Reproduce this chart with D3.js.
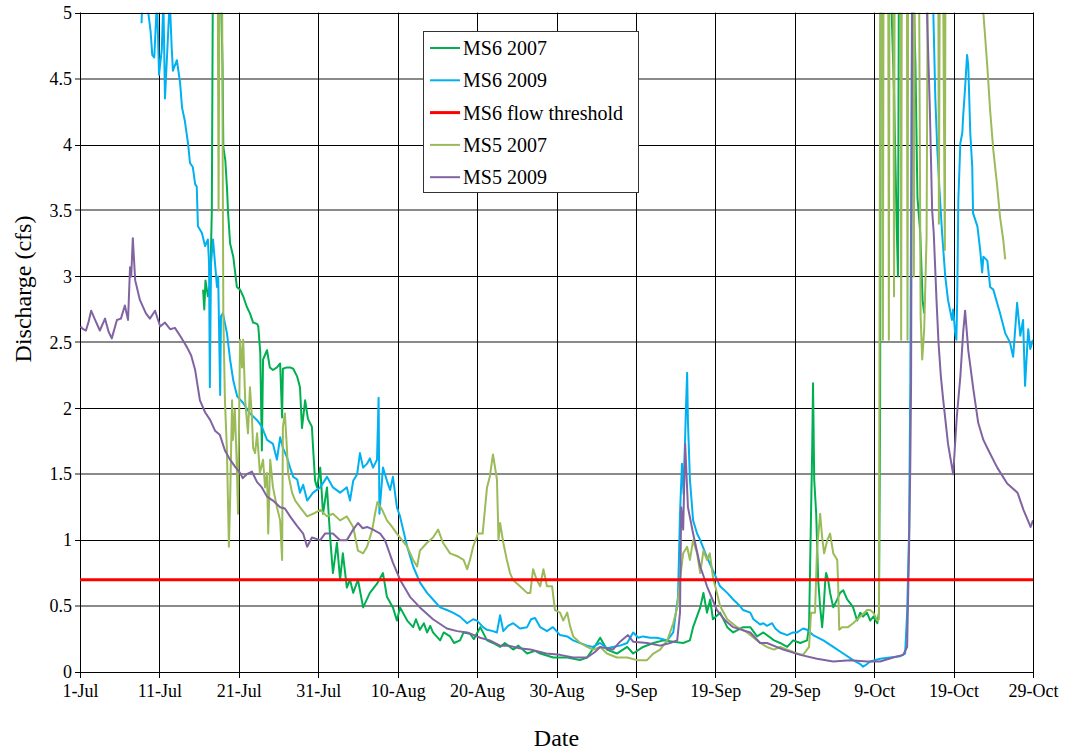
<!DOCTYPE html>
<html>
<head>
<meta charset="utf-8">
<script src="https://cdn.jsdelivr.net/npm/d3@7"></script>
<style>
  html, body { margin: 0; padding: 0; background: #fff; }
  svg { display: block; }
</style>
</head>
<body>
<svg id="chart" width="1065" height="751"></svg>
<script>
// Discharge series: [days after 1-Jul, discharge in cfs]
const ms6_2007 = [[15.5,2.9],[15.65,2.75],[15.8,2.97],[16.1,2.85],[16.4,2.95],[16.6,3.5],[16.75,5.5],[17.5,6.0],[17.8,5.0],[17.95,4.6],[18.05,3.98],[18.3,3.88],[18.5,3.68],[18.65,3.48],[18.9,3.25],[19.3,3.15],[19.75,2.92],[20.15,2.9],[20.55,2.85],[21.0,2.77],[21.4,2.72],[21.8,2.65],[22.3,2.64],[22.45,2.62],[22.7,2.42],[22.9,1.68],[23.05,2.37],[23.55,2.44],[23.9,2.31],[24.3,2.29],[24.8,2.31],[25.2,2.34],[25.45,1.93],[25.55,2.3],[26.05,2.31],[26.45,2.31],[26.85,2.3],[27.35,2.24],[27.7,2.16],[27.95,1.85],[28.35,2.06],[28.7,1.92],[29.2,1.86],[29.35,1.7],[29.6,1.45],[29.85,1.4],[30.25,1.55],[30.6,1.2],[31.1,1.4],[31.5,1.02],[31.85,0.75],[32.35,0.98],[32.75,0.7],[33.1,0.9],[33.6,0.64],[34.0,0.7],[34.4,0.6],[35.0,0.7],[35.65,0.49],[36.5,0.6],[37.4,0.67],[38.15,0.75],[38.65,0.57],[39.4,0.49],[39.9,0.39],[40.3,0.49],[41.2,0.39],[41.95,0.34],[42.3,0.4],[42.8,0.32],[43.3,0.37],[43.7,0.3],[44.1,0.35],[44.45,0.3],[45.35,0.24],[45.8,0.3],[46.6,0.27],[47.1,0.22],[47.85,0.24],[48.3,0.3],[49.1,0.29],[49.6,0.25],[50.4,0.34],[51.25,0.24],[52.0,0.22],[52.9,0.19],[53.5,0.22],[54.55,0.17],[55.2,0.2],[56.3,0.14],[57.3,0.16],[57.95,0.14],[59.6,0.11],[61.35,0.11],[62.95,0.09],[63.85,0.11],[65.1,0.22],[65.5,0.26],[66.35,0.17],[67.6,0.14],[68.9,0.19],[69.65,0.14],[70.9,0.19],[72.2,0.22],[73.45,0.24],[74.7,0.23],[75.95,0.22],[76.8,0.24],[77.2,0.34],[78.1,0.49],[78.5,0.6],[78.95,0.45],[79.35,0.55],[79.7,0.4],[80.6,0.45],[81.5,0.34],[82.25,0.3],[83.5,0.34],[84.4,0.34],[85.25,0.27],[86.05,0.3],[87.4,0.24],[88.15,0.22],[89.05,0.19],[89.8,0.24],[90.7,0.22],[91.55,0.24],[91.8,0.34],[92.05,1.2],[92.2,1.7],[92.3,2.19],[92.45,1.46],[92.7,1.2],[92.95,0.7],[93.2,0.49],[93.45,0.34],[93.6,0.45],[93.85,0.7],[93.95,0.75],[94.2,0.7],[94.45,0.6],[94.85,0.49],[95.35,0.55],[95.7,0.6],[96.1,0.62],[96.6,0.55],[97.0,0.52],[97.35,0.49],[97.85,0.39],[98.25,0.45],[98.6,0.42],[99.1,0.45],[99.5,0.39],[99.9,0.42],[100.4,0.37],[100.6,0.45],[100.75,2.0],[100.85,6.0],[101.9,6.0],[102.25,4.9],[102.5,4.4],[102.85,3.35],[103.0,3.0],[103.15,6.0],[104.6,6.0],[105.2,4.6],[105.45,3.6],[105.8,3.33],[106.1,2.82],[106.3,2.72]];

const ms6_2009 = [[7.75,4.92],[7.9,5.2],[8.5,5.05],[8.9,4.85],[9.1,4.68],[9.35,4.66],[9.7,5.1],[9.95,4.53],[10.3,4.72],[10.5,5.1],[10.7,4.35],[10.95,4.66],[11.3,5.1],[11.55,4.73],[11.7,4.56],[12.2,4.64],[12.6,4.47],[12.85,4.28],[13.2,4.18],[13.6,4.01],[13.85,3.86],[14.2,3.83],[14.5,3.7],[14.7,3.68],[14.85,3.38],[15.35,3.33],[15.75,3.23],[16.1,3.28],[16.25,3.1],[16.35,2.16],[16.5,3.1],[16.75,3.28],[17.25,2.92],[17.4,3.0],[17.65,2.1],[17.75,2.7],[18.0,2.72],[18.5,2.57],[18.9,2.37],[19.3,2.21],[19.8,2.09],[20.55,2.04],[21.4,1.96],[22.3,1.91],[22.9,1.86],[23.55,1.76],[24.3,1.73],[24.8,1.61],[25.2,1.78],[25.55,1.7],[26.05,1.63],[26.45,1.55],[26.85,1.48],[27.35,1.46],[27.7,1.36],[28.1,1.42],[28.6,1.3],[29.35,1.36],[30.25,1.4],[31.1,1.48],[31.85,1.4],[32.75,1.36],[33.6,1.4],[34.0,1.3],[34.4,1.45],[34.9,1.5],[35.25,1.66],[35.65,1.55],[36.15,1.58],[36.5,1.62],[36.9,1.55],[37.4,1.61],[37.6,2.08],[37.7,1.2],[38.15,1.55],[38.65,1.45],[39.05,1.38],[39.4,1.48],[39.9,1.25],[40.3,1.18],[41.2,0.95],[41.95,0.8],[42.8,0.68],[43.7,0.6],[44.45,0.55],[45.35,0.49],[46.2,0.47],[46.95,0.45],[47.85,0.42],[48.75,0.37],[49.5,0.4],[50.0,0.39],[50.75,0.34],[51.25,0.32],[52.0,0.31],[52.5,0.3],[52.9,0.43],[53.3,0.31],[53.9,0.35],[54.55,0.37],[55.4,0.33],[56.3,0.34],[56.8,0.4],[57.3,0.41],[57.95,0.34],[58.8,0.31],[59.55,0.34],[60.45,0.28],[61.35,0.27],[62.1,0.24],[62.95,0.22],[63.85,0.2],[64.6,0.19],[65.5,0.22],[66.35,0.18],[67.1,0.19],[68.0,0.2],[68.9,0.22],[69.65,0.3],[70.3,0.26],[70.9,0.27],[71.8,0.26],[72.65,0.26],[73.95,0.24],[74.7,0.3],[75.3,0.57],[75.55,1.2],[75.8,1.58],[76.0,1.35],[76.3,2.0],[76.45,2.27],[76.55,1.9],[76.8,1.46],[77.2,1.15],[77.7,1.05],[78.1,1.0],[78.95,0.87],[79.7,0.77],[80.6,0.65],[81.5,0.6],[82.25,0.55],[83.1,0.5],[83.5,0.47],[84.4,0.45],[84.8,0.4],[85.65,0.36],[86.05,0.37],[86.5,0.35],[87.15,0.37],[87.55,0.33],[88.15,0.3],[89.05,0.28],[89.8,0.3],[90.3,0.3],[91.05,0.33],[91.55,0.32],[92.3,0.28],[93.6,0.24],[94.85,0.19],[96.1,0.14],[97.35,0.09],[98.25,0.06],[98.6,0.04],[99.1,0.06],[99.5,0.08],[100.75,0.1],[102.0,0.11],[103.3,0.12],[103.9,0.14],[104.15,0.45],[104.4,1.08],[104.55,2.2],[104.65,3.5],[104.8,5.6],[106.0,6.2],[107.3,6.0],[107.45,5.0],[107.7,4.35],[107.95,3.96],[108.3,3.58],[108.55,3.33],[108.95,3.0],[109.3,2.82],[109.8,2.67],[109.95,2.75],[110.2,2.57],[110.35,2.52],[110.45,2.8],[110.6,3.58],[110.85,4.01],[111.1,4.09],[111.2,4.21],[111.45,4.43],[111.7,4.68],[111.85,4.6],[112.1,4.09],[112.35,3.83],[112.45,3.48],[113.0,3.38],[113.35,3.2],[113.6,3.03],[113.75,3.15],[114.25,3.12],[114.6,2.92],[115.0,2.9],[115.85,2.72],[116.5,2.57],[117.1,2.5],[117.5,2.39],[118.0,2.8],[118.4,2.55],[118.75,2.67],[119.0,2.17],[119.4,2.6],[119.65,2.45],[119.9,2.5],[120.0,2.52]];

const ms5_2007 = [[17.3,6.0],[17.45,3.5],[17.6,6.0],[17.85,6.0],[17.95,4.2],[18.05,2.7],[18.25,2.06],[18.5,1.68],[18.75,0.95],[18.9,1.3],[19.15,2.06],[19.25,1.76],[19.5,1.99],[19.75,1.55],[19.9,1.2],[20.15,2.52],[20.4,2.31],[20.55,2.52],[20.8,2.06],[21.15,1.81],[21.4,2.16],[21.65,1.93],[21.8,1.7],[22.05,1.66],[22.3,1.81],[22.65,1.51],[23.05,1.61],[23.3,1.4],[23.55,1.51],[23.7,1.05],[23.95,1.61],[24.3,1.4],[24.8,1.25],[25.2,1.15],[25.45,0.85],[25.55,1.86],[25.8,1.96],[26.05,1.7],[26.2,1.51],[26.7,1.36],[27.1,1.3],[27.7,1.25],[28.6,1.18],[29.35,1.2],[30.25,1.23],[31.1,1.18],[31.85,1.2],[32.75,1.15],[33.6,1.18],[34.4,1.1],[35.0,0.92],[35.65,0.9],[36.15,0.95],[36.8,1.08],[37.15,1.2],[37.45,1.29],[38.05,1.23],[38.65,1.15],[39.3,1.1],[39.9,1.05],[40.3,1.02],[41.2,0.95],[41.95,0.85],[42.45,0.8],[42.8,0.92],[43.7,0.98],[44.45,1.02],[45.1,1.08],[45.7,0.98],[46.6,0.9],[47.45,0.88],[48.3,0.85],[48.75,0.78],[49.1,0.85],[49.5,0.95],[50.1,1.05],[50.7,1.05],[51.25,1.4],[51.6,1.48],[52.0,1.65],[52.5,1.46],[52.7,1.0],[52.9,1.13],[53.3,0.98],[53.75,0.85],[54.15,0.75],[54.5,0.7],[55.4,0.65],[56.3,0.6],[56.7,0.6],[57.05,0.78],[57.5,0.7],[57.95,0.65],[58.35,0.78],[58.8,0.65],[59.45,0.65],[59.8,0.47],[60.45,0.45],[60.85,0.39],[61.35,0.45],[61.7,0.35],[62.1,0.27],[63.0,0.22],[63.85,0.19],[64.6,0.17],[65.5,0.19],[66.35,0.14],[67.6,0.11],[68.9,0.11],[70.15,0.09],[71.4,0.09],[72.2,0.14],[73.05,0.17],[73.95,0.24],[74.7,0.37],[75.2,0.49],[75.55,0.7],[75.95,0.9],[76.45,0.95],[76.8,0.85],[77.2,1.0],[77.7,0.9],[78.1,0.75],[78.5,0.92],[78.95,0.85],[79.3,0.9],[79.7,0.72],[80.2,0.6],[80.6,0.5],[81.5,0.4],[82.75,0.34],[84.0,0.3],[85.65,0.22],[86.5,0.19],[87.4,0.17],[88.15,0.19],[89.05,0.17],[90.3,0.14],[91.05,0.13],[91.8,0.19],[92.05,0.45],[92.55,0.45],[92.8,0.92],[93.2,1.2],[93.45,1.02],[93.7,0.9],[94.1,1.0],[94.45,1.05],[94.85,0.9],[95.35,0.85],[95.45,0.7],[95.6,0.32],[95.95,0.34],[96.7,0.34],[97.35,0.37],[98.25,0.42],[99.1,0.47],[99.5,0.47],[99.9,0.45],[100.4,0.39],[100.6,0.4],[100.8,6.0],[101.0,6.0],[101.1,2.52],[101.2,6.0],[101.75,6.0],[101.85,2.52],[101.95,6.0],[102.4,6.0],[102.5,2.85],[102.6,6.0],[103.3,6.0],[103.4,2.52],[103.5,6.0],[104.1,6.0],[104.2,2.52],[104.3,6.0],[104.85,6.0],[105.0,3.0],[105.15,6.0],[105.6,6.0],[105.85,2.7],[106.05,2.37],[106.3,2.6],[106.6,3.3],[106.8,6.0],[108.05,6.0],[108.15,3.4],[108.3,6.0],[108.6,6.0],[108.9,3.2],[109.0,6.0],[113.4,6.0],[113.75,5.0],[114.25,4.59],[114.6,4.26],[115.0,3.96],[115.5,3.68],[115.85,3.45],[116.25,3.28],[116.5,3.13]];

const ms5_2009 = [[0.05,2.62],[0.4,2.6],[0.75,2.59],[1.1,2.66],[1.4,2.74],[1.9,2.67],[2.5,2.59],[3.15,2.68],[3.6,2.58],[4.0,2.53],[4.65,2.67],[5.15,2.68],[5.65,2.78],[6.05,2.67],[6.3,3.07],[6.45,3.0],[6.65,3.29],[6.95,2.97],[7.55,2.82],[8.3,2.72],[8.8,2.68],[9.45,2.74],[10.1,2.62],[10.7,2.65],[11.35,2.6],[11.95,2.61],[12.6,2.55],[13.1,2.5],[13.5,2.46],[14.0,2.4],[14.5,2.29],[15.1,2.06],[15.75,1.97],[16.4,1.91],[17.0,1.83],[17.6,1.8],[18.25,1.68],[18.9,1.61],[19.5,1.56],[20.15,1.51],[20.5,1.47],[21.0,1.5],[21.65,1.52],[22.3,1.44],[22.9,1.4],[23.55,1.33],[24.3,1.3],[25.2,1.25],[25.8,1.24],[26.45,1.18],[27.3,1.11],[28.1,1.05],[28.6,0.95],[29.2,1.02],[30.25,1.0],[30.85,1.05],[31.85,1.05],[32.75,1.0],[33.6,1.0],[34.4,1.08],[35.0,1.13],[35.6,1.09],[36.15,1.1],[36.9,1.08],[37.8,1.05],[38.4,1.0],[39.4,0.83],[40.3,0.7],[41.55,0.57],[42.8,0.49],[44.45,0.4],[46.2,0.33],[47.5,0.31],[48.75,0.3],[50.4,0.26],[51.6,0.24],[52.9,0.2],[54.0,0.2],[55.3,0.18],[56.7,0.17],[58.7,0.14],[60.45,0.13],[62.1,0.11],[63.85,0.11],[64.8,0.15],[65.5,0.19],[67.1,0.17],[68.0,0.23],[69.0,0.28],[69.65,0.23],[71.4,0.22],[73.05,0.2],[74.3,0.22],[75.2,0.24],[75.55,0.45],[75.7,1.25],[75.95,1.08],[76.2,1.73],[76.55,1.25],[77.2,1.05],[78.1,0.8],[78.95,0.65],[80.2,0.47],[81.25,0.39],[82.25,0.34],[84.4,0.3],[85.65,0.22],[86.5,0.22],[88.55,0.17],[90.7,0.13],[92.8,0.1],[94.85,0.08],[97.0,0.09],[99.1,0.08],[100.75,0.08],[102.4,0.11],[103.65,0.13],[104.15,0.19],[104.4,0.95],[104.55,1.58],[104.65,2.2],[104.8,5.6],[105.5,6.2],[106.4,6.0],[106.65,5.0],[107.0,4.3],[107.3,3.5],[107.5,3.33],[107.85,2.82],[108.1,2.5],[108.4,2.24],[108.7,2.06],[109.3,1.73],[109.95,1.5],[110.4,1.93],[110.85,2.24],[111.2,2.57],[111.45,2.74],[111.85,2.44],[112.5,2.14],[113.1,1.89],[113.75,1.76],[114.4,1.68],[115.5,1.55],[116.75,1.43],[118.05,1.36],[118.8,1.23],[119.7,1.1],[120.0,1.15]];

const flowThreshold = 0.7;

const seriesNames = ["MS6 2007", "MS6 2009", "MS6 flow threshold", "MS5 2007", "MS5 2009"];
const seriesColors = ["#00B050", "#00B0F0", "#FF0000", "#9BBB59", "#8064A2"];

const xTickLabels = ["1-Jul","11-Jul","21-Jul","31-Jul","10-Aug","20-Aug","30-Aug","9-Sep","19-Sep","29-Sep","9-Oct","19-Oct","29-Oct"];
const yTickValues = [0, 0.5, 1, 1.5, 2, 2.5, 3, 3.5, 4, 4.5, 5];

// pick the first serif face the system actually has
function pickFont(candidates) {
  const ctx = document.createElement("canvas").getContext("2d");
  const sample = "MS6 flow threshold 0123456789 Discharge";
  const widthOf = f => { ctx.font = "40px " + f; return ctx.measureText(sample).width; };
  for (const c of candidates) {
    const quoted = `"${c}"`;
    if (widthOf(`${quoted}, monospace`) !== widthOf("monospace") &&
        widthOf(`${quoted}, sans-serif`) !== widthOf("sans-serif") || 
        widthOf(`${quoted}, monospace`) !== widthOf("monospace")) {
      return quoted + ", serif";
    }
  }
  return "serif";
}
const serif = pickFont(["Liberation Serif", "Times New Roman", "Tinos", "Times", "Nimbus Roman", "Nimbus Roman No9 L", "FreeSerif", "DejaVu Serif", "Noto Serif", "Liberation Sans"]);

const svg = d3.select("#chart").attr("font-family", serif);
const plotL = 80, plotR = 1033, plotT = 12.7, plotB = 672;

const parseTick = d3.timeParse("%d-%b-%Y");
const tickDates = xTickLabels.map(s => parseTick(s + "-2009"));
const startDate = tickDates[0];
const toDate = day => new Date(startDate.getTime() + day * 864e5);

const x = d3.scaleTime().domain([tickDates[0], tickDates[tickDates.length - 1]]).range([plotL, plotR]);
const y = d3.scaleLinear().domain([0, 5]).range([plotB, plotT]);

const crisp = v => Math.round(v) + 0.5;

// horizontal gridlines: whole numbers sharp, halves softer
const gH = svg.append("g");
yTickValues.forEach(v => {
  const whole = Number.isInteger(v);
  const yy = whole ? crisp(y(v)) : Math.round(y(v));
  gH.append("line")
    .attr("x1", plotL - 5).attr("x2", plotR)
    .attr("y1", yy).attr("y2", yy)
    .attr("stroke", whole ? "#000" : "#8a8a8a")
    .attr("stroke-width", whole ? 1 : 2);
});

// vertical gridlines with tick marks below the axis
const gV = svg.append("g");
tickDates.forEach(d => {
  const xx = crisp(x(d));
  gV.append("line")
    .attr("x1", xx).attr("x2", xx)
    .attr("y1", plotT).attr("y2", plotB + 6)
    .attr("stroke", "#000").attr("stroke-width", 1);
});

// axis frame
svg.append("line").attr("x1", crisp(plotL)).attr("x2", crisp(plotL)).attr("y1", plotT).attr("y2", plotB)
  .attr("stroke", "#000");
svg.append("line").attr("x1", plotL).attr("x2", plotR).attr("y1", crisp(plotB)).attr("y2", crisp(plotB))
  .attr("stroke", "#000");

// tick labels through d3 axes
const xAxis = d3.axisBottom(x).tickValues(tickDates).tickSize(0).tickPadding(0)
  .tickFormat((d, i) => xTickLabels[i]);
const gx = svg.append("g").attr("transform", `translate(0,${plotB + 25})`).call(xAxis);
gx.attr("font-family", serif).attr("font-size", 18);
gx.select(".domain").remove();
gx.selectAll("text").attr("y", 0).attr("dy", 0).attr("fill", "#000");

const yAxis = d3.axisLeft(y).tickValues(yTickValues).tickSize(0).tickPadding(0)
  .tickFormat(d3.format("~g"));
const gy = svg.append("g").attr("transform", `translate(${plotL - 8},0)`).call(yAxis);
gy.attr("font-family", serif).attr("font-size", 18);
gy.select(".domain").remove();
gy.selectAll("text").attr("fill", "#000");

// axis titles
svg.append("text")
  .attr("transform", `translate(31,289) rotate(-90)`)
  .attr("text-anchor", "middle")
  .attr("font-size", 24)
  .text("Discharge (cfs)");
svg.append("text")
  .attr("x", (plotL + plotR) / 2).attr("y", 746)
  .attr("text-anchor", "middle")
  .attr("font-size", 24)
  .text("Date");

// data lines, clipped to the plotting area
svg.append("clipPath").attr("id", "plotClip")
  .append("rect").attr("x", plotL).attr("y", plotT).attr("width", plotR - plotL).attr("height", plotB - plotT);

const line = d3.line().x(d => x(toDate(d[0]))).y(d => y(d[1]));
const plot = svg.append("g").attr("clip-path", "url(#plotClip)");

const drawn = [
  [ms6_2007, seriesColors[0]],
  [ms6_2009, seriesColors[1]],
  [ms5_2007, seriesColors[3]],
  [ms5_2009, seriesColors[4]]
];
drawn.forEach(([data, color]) => {
  plot.append("path").datum(data)
    .attr("d", line)
    .attr("fill", "none")
    .attr("stroke", color)
    .attr("stroke-width", 2)
    .attr("stroke-linejoin", "round");
});

plot.append("line")
  .attr("x1", x(tickDates[0])).attr("x2", x(tickDates[tickDates.length - 1]))
  .attr("y1", y(flowThreshold)).attr("y2", y(flowThreshold))
  .attr("stroke", seriesColors[2]).attr("stroke-width", 3);

// top and right border
svg.append("line").attr("x1", plotL).attr("x2", plotR + 0.5).attr("y1", crisp(plotT)).attr("y2", crisp(plotT)).attr("stroke", "#000");
svg.append("line").attr("x1", crisp(plotR)).attr("x2", crisp(plotR)).attr("y1", plotT).attr("y2", plotB).attr("stroke", "#000");

// legend
const lg = svg.append("g").attr("transform", "translate(423,31)");
lg.append("rect").attr("x", 0.5).attr("y", 0.5).attr("width", 215).attr("height", 161)
  .attr("fill", "#fff").attr("stroke", "#333").attr("stroke-width", 1);
seriesNames.forEach((name, i) => {
  const yy = 17 + i * 32.3;
  lg.append("line").attr("x1", 7).attr("x2", 37).attr("y1", yy).attr("y2", yy)
    .attr("stroke", seriesColors[i]).attr("stroke-width", i === 2 ? 3 : 2);
  lg.append("text").attr("x", 40).attr("y", yy + 7).attr("font-size", 20).text(name);
});
</script>
</body>
</html>
